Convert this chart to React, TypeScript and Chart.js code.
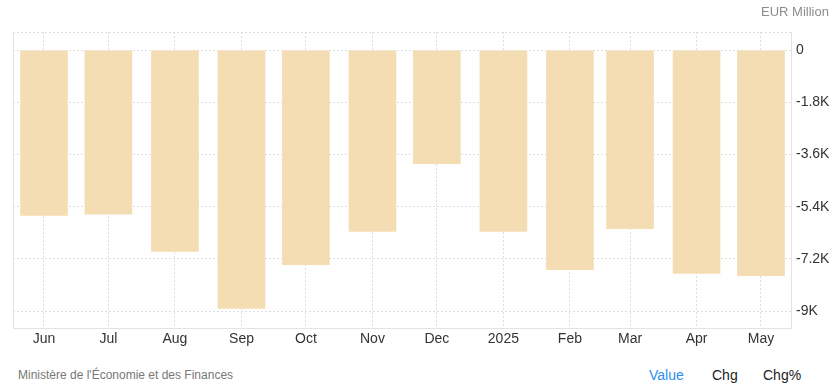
import React, { useEffect, useRef } from "react";
import { Chart, registerables } from "chart.js";

Chart.register(...registerables);

const dates = [
  "2024-06-01", "2024-07-01", "2024-08-01", "2024-09-01", "2024-10-01", "2024-11-01",
  "2024-12-01", "2025-01-01", "2025-02-01", "2025-03-01", "2025-04-01", "2025-05-01",
];
const monthLabels = ["Jun", "Jul", "Aug", "Sep", "Oct", "Nov", "Dec", "2025", "Feb", "Mar", "Apr", "May"];
const values = [-5700, -5660, -6940, -8910, -7400, -6250, -3910, -6250, -7570, -6160, -7700, -7780];
const yTickValues = [0, -1800, -3600, -5400, -7200, -9000];
const yTickLabels = ["0", "-1.8K", "-3.6K", "-5.4K", "-7.2K", "-9K"];

const DAY = 86400000;
const dayOffsets = dates.map((d) => (Date.parse(d) - Date.parse(dates[0])) / DAY);

const FONT = "Arial, 'Liberation Sans', sans-serif";
const GRID = "#dedede";
const BORDER = "#e3e3e3";

export default function App() {
  const ref = useRef<HTMLCanvasElement | null>(null);

  useEffect(() => {
    if (!ref.current) return;
    const yMax = 635;
    const leftBorder = {
      id: "leftBorder",
      afterDraw(chart: any) {
        const { ctx, chartArea } = chart;
        ctx.save();
        ctx.strokeStyle = BORDER;
        ctx.lineWidth = 1;
        ctx.beginPath();
        ctx.moveTo(chartArea.left + 0.5, chartArea.top);
        ctx.lineTo(chartArea.left + 0.5, chartArea.bottom);
        ctx.stroke();
        ctx.restore();
      },
    };
    const chart = new Chart(ref.current, {
      type: "bar",
      data: {
        datasets: [
          {
            data: dayOffsets.map((x, i) => ({ x, y: values[i] })),
            backgroundColor: "#f4ddb3",
            borderWidth: 0,
            barThickness: 47,
          },
        ],
      },
      options: {
        responsive: false,
        animation: false,
        devicePixelRatio: 1,
        layout: { padding: { left: 13, top: 32, right: 0, bottom: 0 } },
        plugins: { legend: { display: false }, tooltip: { enabled: false } },
        scales: {
          x: {
            type: "linear",
            min: -14.44,
            max: 347.98,
            offset: false,
            grid: { offset: false, color: GRID, drawTicks: false, lineWidth: 1 },
            border: { display: true, color: BORDER, dash: [2, 2] },
            afterBuildTicks: (scale: any) => {
              scale.ticks = dayOffsets.map((v) => ({ value: v }));
            },
            afterFit: (scale: any) => {
              scale.height = 24;
            },
            ticks: {
              autoSkip: false,
              maxRotation: 0,
              padding: 3,
              color: "#333",
              font: { family: FONT, size: 14 },
              callback: (v: any) => {
                const i = dayOffsets.indexOf(Number(v));
                return i >= 0 ? monthLabels[i] : "";
              },
            },
          },
          y: {
            type: "linear",
            position: "right",
            min: -9587,
            max: yMax,
            grid: { color: GRID, drawTicks: false, lineWidth: 1 },
            border: { display: true, color: BORDER, dash: [2, 2] },
            afterBuildTicks: (scale: any) => {
              scale.ticks = [...yTickValues, yMax].map((v) => ({ value: v }));
            },
            afterFit: (scale: any) => {
              scale.width = 46;
            },
            ticks: {
              padding: 5,
              color: "#333",
              font: { family: FONT, size: 14 },
              callback: (v: any) => {
                const i = yTickValues.indexOf(Number(v));
                return i >= 0 ? yTickLabels[i] : "";
              },
            },
          },
        },
      },
      plugins: [leftBorder],
    });
    return () => chart.destroy();
  }, []);

  const base: React.CSSProperties = { position: "absolute", fontFamily: FONT, whiteSpace: "nowrap" };

  return (
    <div style={{ position: "absolute", left: 0, top: 0, width: 837, height: 392, background: "#fff", overflow: "hidden" }}>
      <canvas ref={ref} width={837} height={352} style={{ position: "absolute", left: 0, top: 0 }} />
      <div style={{ ...base, left: 761, top: 4, fontSize: 13, lineHeight: "16px", color: "#8c8c8c" }}>EUR Million</div>
      <div style={{ ...base, left: 18, top: 367, fontSize: 12, lineHeight: "16px", color: "#777" }}>
        Ministère de l'Économie et des Finances
      </div>
      <div style={{ ...base, left: 649, top: 367, fontSize: 14, lineHeight: "16px", color: "#2d8ff0" }}>Value</div>
      <div style={{ ...base, left: 712, top: 367, fontSize: 14, lineHeight: "16px", color: "#222" }}>Chg</div>
      <div style={{ ...base, left: 763, top: 367, fontSize: 14, lineHeight: "16px", color: "#222" }}>Chg%</div>
    </div>
  );
}
